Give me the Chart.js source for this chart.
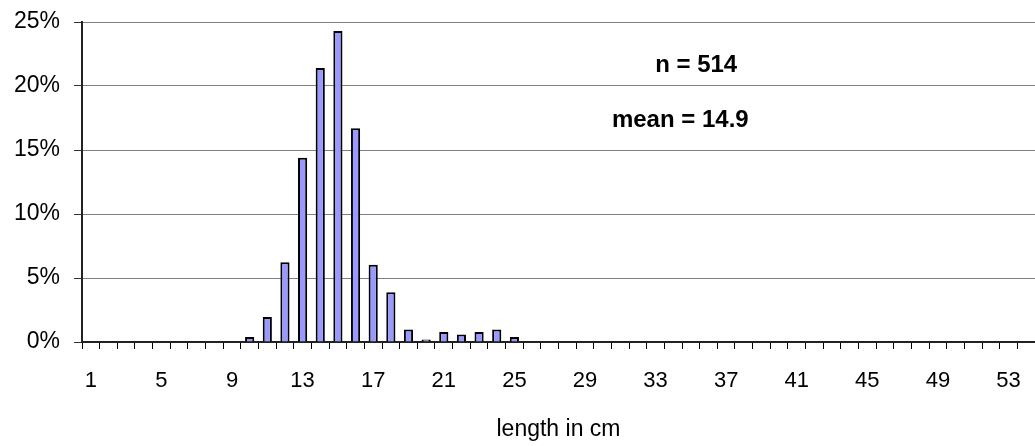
<!DOCTYPE html>
<html>
<head>
<meta charset="utf-8">
<script src="https://cdn.jsdelivr.net/npm/chart.js@4/dist/chart.umd.min.js"></script>
<style>
  html, body { margin: 0; padding: 0; background: #fff; }
  #wrap { width: 1035px; height: 446px; }
</style>
</head>
<body>
<div id="wrap"><canvas id="grafico" width="1035" height="446"></canvas></div>
<script>
// length classes 1..54 cm
const comprimentos = [];
for (let i = 1; i <= 54; i++) comprimentos.push(String(i));

// share of fish per length class, in %
const percentuais = [
  0, 0, 0, 0, 0, 0, 0, 0, 0, 0.39,
  1.95, 6.23, 14.4, 21.4, 24.3, 16.7, 6.03, 3.89, 0.97, 0.19,
  0.78, 0.58, 0.78, 0.97, 0.39, 0, 0, 0, 0, 0,
  0, 0, 0, 0, 0, 0, 0, 0, 0, 0,
  0, 0, 0, 0, 0, 0, 0, 0, 0, 0,
  0, 0, 0, 0
];

const yTicks = [0, 5, 10, 15, 20, 25];
const anotacoes = [
  { text: "n = 514", x: 34.3, y: 21.6 },
  { text: "mean = 14.9", x: 33.4, y: 17.3 }
];

const fonte = "'Liberation Sans', Arial, sans-serif";

const textoPlugin = {
  id: "textoPlugin",
  afterDraw(chart) {
    const ctx = chart.ctx;
    const xs = chart.scales.x, ys = chart.scales.y;
    ctx.save();
    ctx.font = "bold 24px " + fonte;
    ctx.fillStyle = "#000";
    ctx.textAlign = "center";
    ctx.textBaseline = "middle";
    anotacoes.forEach(a => {
      const px = xs.left + (a.x + 0.5) * (xs.width / comprimentos.length);
      ctx.fillText(a.text, px, ys.getPixelForValue(a.y));
    });
    ctx.restore();
  }
};

// no automatic padding, the plot area is fixed
function semPadding(s) {
  s.paddingTop = 0;
  s.paddingBottom = 0;
  s.paddingLeft = 0;
  s.paddingRight = 0;
}

const ctx = document.getElementById("grafico").getContext("2d");
new Chart(ctx, {
  type: "bar",
  data: {
    labels: comprimentos,
    datasets: [{
      data: percentuais,
      backgroundColor: "#9999FF",
      borderColor: "#000",
      borderWidth: 2,
      barPercentage: 0.52,
      categoryPercentage: 1
    }]
  },
  options: {
    responsive: false,
    animation: false,
    layout: { padding: { top: 22, right: 0, left: 0, bottom: 0 } },
    plugins: { legend: { display: false }, tooltip: { enabled: false } },
    scales: {
      x: {
        offset: true,
        grid: { offset: true, drawOnChartArea: false, color: "#000", tickLength: 7 },
        border: { color: "#222", width: 2 },
        ticks: {
          autoSkip: false, maxRotation: 0, padding: 19,
          color: "#000", font: { family: fonte, size: 22 },
          callback: (v, i) => (i % 4 === 0 ? comprimentos[i] : "")
        },
        title: {
          display: true, text: "length in cm", color: "#000",
          font: { family: fonte, size: 23 }, padding: { top: 4, bottom: 3 }
        },
        afterFit: s => { s.height = 104; semPadding(s); }
      },
      y: {
        min: 0, max: 25,
        afterBuildTicks: s => { s.ticks = yTicks.map(v => ({ value: v })); },
        grid: { color: "#808080", tickColor: "#333", tickLength: 8 },
        border: { color: "#222", width: 2 },
        ticks: {
          padding: 14, color: "#000", font: { family: fonte, size: 23 },
          callback: v => v + "%"
        },
        afterFit: s => { s.width = 82; semPadding(s); }
      }
    }
  },
  plugins: [textoPlugin]
});
</script>
</body>
</html>
